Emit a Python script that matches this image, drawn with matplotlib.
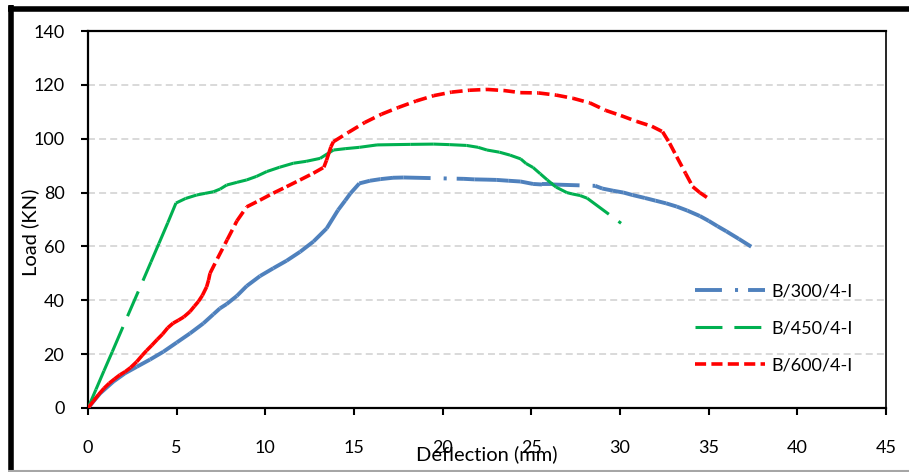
import numpy as np
import matplotlib
matplotlib.use("Agg")
import matplotlib.pyplot as plt
from matplotlib.collections import LineCollection
from matplotlib.lines import Line2D

#################################################
# load-deflection readings (mm, kN)

b300_x = [0, 0.68, 1.43, 2.09, 2.75, 3.50, 4.25, 5.00, 5.75, 6.50, 7.07, 7.44, 7.82,
          8.39, 8.95, 9.70, 10.45, 11.20, 11.96, 12.71, 13.46, 14.10, 14.50, 14.80,
          15.30, 15.90, 16.50, 17.20, 17.80, 21.20, 21.80, 22.50, 23.05, 23.70, 24.40,
          25.10, 25.60, 26.20, 28.60, 29.00, 29.60, 30.20, 30.70, 31.40, 32.00, 32.60,
          33.20, 33.80, 34.50, 35.00, 35.50, 36.00, 36.70, 37.40]
b300_y = [0, 5.4, 9.8, 12.9, 15.3, 18.0, 20.9, 24.3, 27.7, 31.4, 34.8, 37.0, 38.6,
          41.6, 45.3, 49.0, 51.9, 54.7, 58.0, 61.8, 66.7, 73.5, 77.0, 79.7,
          83.4, 84.4, 85.0, 85.5, 85.6, 85.1, 84.9, 84.8, 84.7, 84.4, 84.1,
          83.2, 83.0, 83.0, 82.5, 81.5, 80.7, 80.0, 79.1, 78.0, 77.0, 76.0,
          74.8, 73.3, 71.3, 69.5, 67.5, 65.6, 62.8, 59.9]

b450_x = [0, 0.45, 0.90, 1.37, 2.23, 3.10, 3.55, 4.00, 4.50, 4.96, 5.50, 6.13, 6.60,
          7.07, 7.45, 7.82, 8.40, 8.95, 9.50, 10.08, 10.80, 11.58, 12.30, 13.09, 13.84,
          14.50, 15.30, 16.30, 17.20, 18.20, 19.50, 20.40, 21.35, 22.00, 22.50, 23.20,
          23.80, 24.40, 24.70, 25.10, 25.50, 25.90, 26.40, 27.00, 27.30, 27.75, 28.15,
          30.06]
b450_y = [0, 6.9, 13.8, 20.9, 34.1, 47.3, 54.2, 61.1, 68.8, 76.1, 77.8, 79.1, 79.7,
          80.3, 81.3, 82.8, 83.8, 84.7, 86.0, 87.8, 89.4, 90.9, 91.6, 92.7, 95.8,
          96.3, 96.8, 97.7, 97.8, 97.9, 98.0, 97.8, 97.5, 96.8, 95.8, 95.0,
          93.9, 92.5, 90.8, 89.3, 87.0, 84.7, 82.0, 80.0, 79.5, 78.9, 77.9,
          68.6]

b600_x = [0, 0.30, 0.60, 0.90, 1.20, 1.50, 1.80, 2.10, 2.40, 2.75, 3.05, 3.30, 3.60,
          3.90, 4.20, 4.50, 4.80, 5.10, 5.40, 5.75, 6.00, 6.22, 6.45, 6.69, 6.80, 6.88,
          7.30, 7.85, 8.40, 8.95, 9.70, 10.45, 11.20, 11.96, 12.71, 13.30, 13.45, 13.60,
          13.70, 13.84, 14.70, 15.60, 16.55, 17.50, 18.50, 19.50, 20.50, 21.50, 22.50,
          23.45, 24.40, 25.40, 26.40, 27.35, 28.30, 29.20, 30.05, 30.95, 31.80, 32.40,
          32.80, 33.20, 33.70, 34.10, 34.50, 34.90]
b600_y = [0, 2.5, 5.0, 7.3, 9.2, 10.8, 12.3, 13.5, 15.0, 17.2, 19.5, 21.3, 23.3,
          25.4, 27.4, 29.8, 31.5, 32.6, 33.8, 35.8, 37.8, 39.5, 41.8, 45.0, 47.5, 50.0,
          55.5, 62.5, 69.5, 74.7, 77.2, 79.8, 82.2, 84.7, 87.2, 89.4, 92.0, 95.0,
          97.0, 98.9, 102.4, 106.0, 109.1, 111.6, 114.0, 116.0, 117.3, 118.0, 118.3,
          117.9, 117.1, 117.0, 116.2, 115.0, 113.3, 110.5, 108.6, 106.4, 104.6, 102.6,
          98.3, 93.3, 87.1, 82.2, 80.0, 78.2]

labels = ['B/300/4-I', 'B/450/4-I', 'B/600/4-I']

#################################################

plt.rcParams['font.family'] = ['Lato', 'DejaVu Sans']
plt.rcParams['lines.scale_dashes'] = False

# Excel restarts the dash pattern at every data point -> one path per segment
series = [
    (b300_x, b300_y, '#4F81BD', 2.8, (0, (19.4, 9.4, 2.2, 7.2))),
    (b450_x, b450_y, '#00B050', 2.2, (0, (19.4, 8.6))),
    (b600_x, b600_y, '#FF0000', 2.6, (0, (8.0, 3.8))),
]

fig = plt.figure(figsize=(9.09, 4.72), dpi=100)
ax = fig.add_axes([88/909, 1-408/472, 798/909, 377/472])

handles = []
for (xs, ys, col, lw, ls), lab in zip(series, labels):
    pts = np.column_stack([xs, ys])
    segs = np.stack([pts[:-1], pts[1:]], axis=1)
    lc = LineCollection(segs, colors=col, linewidths=lw, linestyles=[ls], zorder=3)
    lc.set_capstyle('butt')
    ax.add_collection(lc)
    handles.append(Line2D([], [], color=col, lw=lw, linestyle=ls, dash_capstyle='butt'))

ax.set_xlim(0, 45)
ax.set_ylim(0, 140)
ax.set_xticks(np.arange(0, 46, 5))
ax.set_yticks(np.arange(0, 141, 20))

ax.yaxis.grid(True, color='#D9D9D9', lw=1.4, linestyle=(0, (5, 3)), zorder=0)
ax.set_axisbelow(True)

for s in ax.spines.values():
    s.set_linewidth(1.6)
ax.spines['right'].set_linewidth(1.2)

ax.tick_params(axis='both', direction='out', length=5, width=1.5, labelsize=13)
ax.tick_params(axis='y', pad=12)
ax.tick_params(axis='x', pad=18)

ax.set_xlabel('Deflection (mm)', fontsize=14.5)
ax.xaxis.set_label_coords(0.5, -0.100)
ax.set_ylabel('Load (KN)', fontsize=14.5, va='center', ha='center')
ax.yaxis.set_label_coords(-0.0727, 0.465)

leg = ax.legend(handles, labels, loc='upper left', bbox_to_anchor=(695/909, 1-283.5/472),
                bbox_transform=fig.transFigure, frameon=False, fontsize=13,
                handlelength=3.85, handletextpad=0.4, labelspacing=1.15, borderpad=0,
                borderaxespad=0)

# frame around the chart area
fig.add_artist(Line2D([10.5/909, 10.5/909], [0, 1-5/472], transform=fig.transFigure,
                      color='black', lw=4, solid_capstyle='butt'))
fig.add_artist(Line2D([8/909, 1], [1-8.5/472, 1-8.5/472], transform=fig.transFigure,
                      color='black', lw=4, solid_capstyle='butt'))
fig.add_artist(Line2D([8/909, 1], [1.5/472, 1.5/472], transform=fig.transFigure,
                      color='#A6A6A6', lw=1.5, solid_capstyle='butt'))

plt.savefig('out.png', dpi=100)
